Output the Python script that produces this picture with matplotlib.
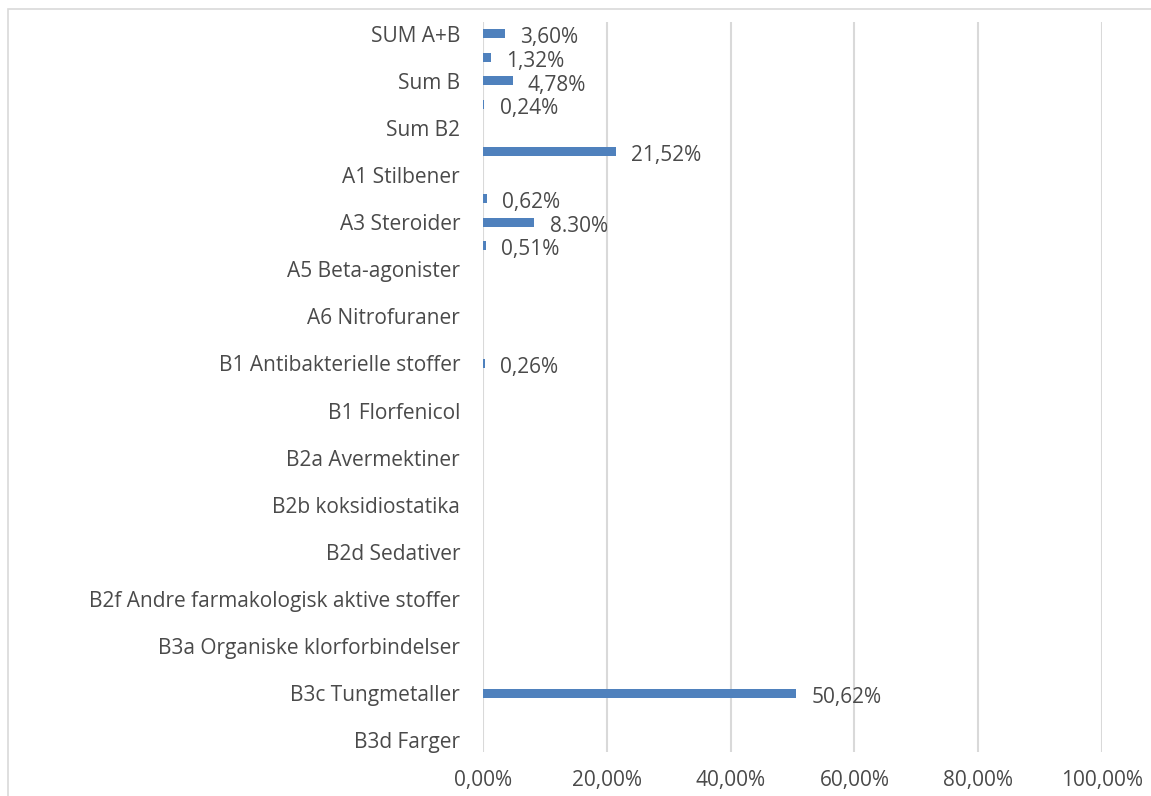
import matplotlib.pyplot as plt
from matplotlib.patches import Rectangle
from matplotlib.ticker import FuncFormatter

# categories top to bottom (only every second name is printed, as in the source chart)
categories = [
    "SUM A+B", "Sum A", "Sum B", "Sum B1", "Sum B2", "Sum B3",
    "A1 Stilbener", "A2 Tyreostatika", "A3 Steroider", "A4 Resorcylsyrelaktoner",
    "A5 Beta-agonister", "A6 Kloramfenikol", "A6 Nitrofuraner", "A6 Andre",
    "B1 Antibakterielle stoffer", "B1 Kinoloner", "B1 Florfenicol", "B2a Benzimidazoler",
    "B2a Avermektiner", "B2a Andre", "B2b koksidiostatika", "B2c Karbamater og pyretroider",
    "B2d Sedativer", "B2e NSAID", "B2f Andre farmakologisk aktive stoffer", "B2f Kortikosteroider",
    "B3a Organiske klorforbindelser", "B3b Organiske fosforforbindelser", "B3c Tungmetaller",
    "B3d Mykotoksiner", "B3d Farger",
]
values = [
    0.0360, 0.0132, 0.0478, 0.0024, 0.0, 0.2152,
    0.0, 0.0062, 0.0830, 0.0051,
    0.0, 0.0, 0.0, 0.0,
    0.0026, 0.0, 0.0, 0.0,
    0.0, 0.0, 0.0, 0.0,
    0.0, 0.0, 0.0, 0.0,
    0.0, 0.0, 0.5062,
    0.0, 0.0,
]
labels = [
    "3,60%", "1,32%", "4,78%", "0,24%", "", "21,52%",
    "", "0,62%", "8.30%", "0,51%",
    "", "", "", "",
    "0,26%", "", "", "",
    "", "", "", "",
    "", "", "", "",
    "", "", "50,62%",
    "", "",
]

text_col = "#4a4a4a"
bar_col = "#4F81BD"
plt.rcParams["font.family"] = ["Open Sans", "DejaVu Sans"]

fig = plt.figure(figsize=(11.51, 7.96), dpi=100)
ax = fig.add_axes([483 / 1151, 1 - 752 / 796, (1102 - 483) / 1151, (752 - 22) / 796])

# light chart border (runs off the right and bottom edges)
fig.patches.append(Rectangle((8 / 1151, -0.05), 1.2, 1 - 9 / 796 + 0.05,
                             transform=fig.transFigure, fill=False,
                             edgecolor="#d9d9d9", linewidth=1.2))

y = list(range(len(categories)))
ax.barh(y, values, height=0.38, color=bar_col, zorder=3)
for yi, v, lab in zip(y, values, labels):
    if lab:
        ax.annotate(lab, (v, yi), xytext=(11, -3), textcoords="offset points",
                    va="center", ha="left", fontsize=15, color=text_col)

ax.set_ylim(len(categories) - 0.5, -0.5)
ax.set_xlim(0, 1.0)
ax.set_xticks([0, 0.2, 0.4, 0.6, 0.8, 1.0])
ax.xaxis.set_major_formatter(FuncFormatter(lambda x, p: f"{x * 100:.2f}%".replace(".", ",")))
ax.set_yticks(y[::2])
ax.set_yticklabels(categories[::2])
ax.tick_params(axis="both", length=0, labelsize=15, labelcolor=text_col)
ax.tick_params(axis="y", pad=16.5)
ax.tick_params(axis="x", pad=13)
ax.grid(axis="x", color="#d9d9d9", linewidth=1.5, zorder=0)
for s in ax.spines.values():
    s.set_visible(False)

fig.savefig("out.png", dpi=100)
